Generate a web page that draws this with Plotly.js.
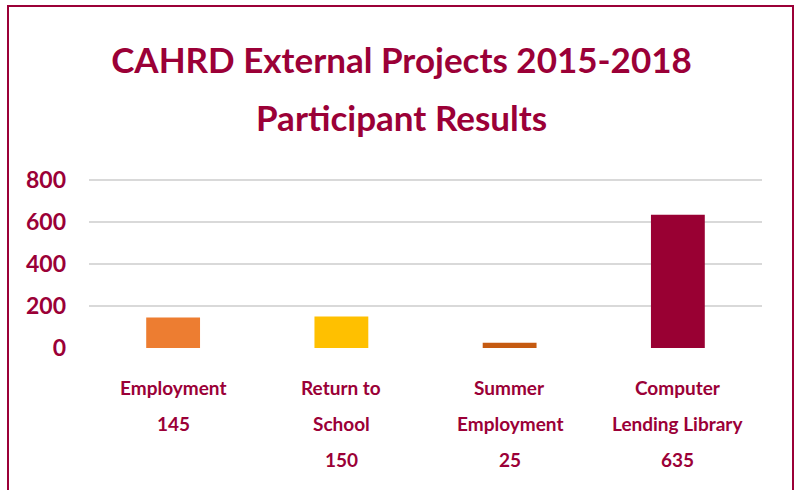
<!DOCTYPE html>
<html>
<head>
<meta charset="utf-8">
<script src="https://cdn.plot.ly/plotly-3.0.1.min.js"></script>
<style>
  html, body { margin: 0; padding: 0; background: #fff; }
  #chart { width: 797px; height: 490px; }
  #frame { position: absolute; left: 7px; top: 5px; width: 783px; height: 520px;
           border: 2px solid #9B0037; pointer-events: none; }
</style>
</head>
<body>
<div id="chart"></div>
<div id="frame"></div>
<script>
const titleLines = ["CAHRD External Projects 2015-2018", "Participant Results"];
const categories = ["Employment", "Return to School", "Summer Employment", "Computer Lending Library"];
const labelLines = [["Employment"], ["Return to", "School"], ["Summer", "Employment"], ["Computer", "Lending Library"]];
const values = [145, 150, 25, 635];
const barColors = ["#ED7D31", "#FFC000", "#C55A11", "#990033"];
const yTicks = [0, 200, 400, 600, 800];

const FONT = 'Lato, "Liberation Sans", Arial, sans-serif';
const RED = '#9B0037';

// plot area: bottom (value 0) at y=348, value 800 at y=180
const TOP = 172;            // top edge of plot area in px
const PLOT_H = 348 - TOP;   // plot height
const Y_MAX = PLOT_H * 800 / 168;

const annotations = [];
categories.forEach((c, i) => {
  const lines = labelLines[i].concat([String(values[i])]);
  lines.forEach((t, k) => {
    annotations.push({
      x: c, xref: 'x', y: 0, yref: 'paper', yanchor: 'middle', xanchor: 'center',
      yshift: -39 - 36 * k, text: t, showarrow: false,
      font: { family: FONT, size: 19, color: RED, weight: 'bold' }
    });
  });
});
annotations.push({
  x: (401.5 - 89) / 673, xref: 'paper', y: (348 - 117) / PLOT_H, yref: 'paper',
  yanchor: 'middle', xanchor: 'center',
  text: titleLines[1], showarrow: false,
  font: { family: FONT, size: 35, color: RED, weight: 'bold' }
});

Plotly.newPlot('chart', [{
  type: 'bar', x: categories, y: values,
  marker: { color: barColors, line: { width: 0 } },
  hoverinfo: 'skip'
}], {
  width: 797, height: 490,
  margin: { l: 89, r: 35, t: TOP, b: 142 },
  paper_bgcolor: '#fff', plot_bgcolor: '#fff',
  bargap: 0.68,
  showlegend: false,
  title: {
    text: titleLines[0], x: 401.5 / 797, xref: 'container', xanchor: 'center',
    y: 1 - 61 / 490, yref: 'container', yanchor: 'middle',
    font: { family: FONT, size: 35, color: RED, weight: 'bold' }
  },
  xaxis: { range: [-0.5, 3.5], autorange: false, showticklabels: false, showgrid: false,
           zeroline: false, showline: false, ticks: '' },
  yaxis: {
    range: [0, Y_MAX], autorange: false, tickvals: yTicks, ticktext: yTicks.map(String),
    showgrid: true, gridcolor: '#D9D9D9', gridwidth: 2, zeroline: false, showline: false,
    ticks: '', ticklabelstandoff: 22,
    tickfont: { family: FONT, size: 23, color: RED, weight: 'bold' }
  },
  annotations: annotations
}, { displayModeBar: false, staticPlot: true });
</script>
</body>
</html>
